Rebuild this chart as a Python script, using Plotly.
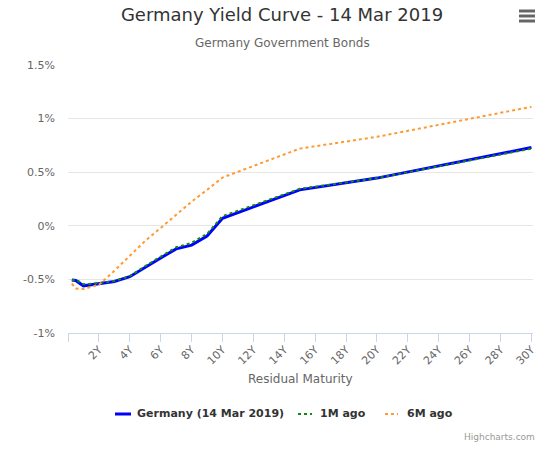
import plotly.graph_objects as go

# residual maturity in years
maturity = [0.25, 0.5, 1, 2, 3, 4, 5, 6, 7, 8, 9, 10, 15, 20, 30]

germany = [-0.505, -0.51, -0.56, -0.54, -0.52, -0.475, -0.385, -0.30, -0.215,
           -0.18, -0.095, 0.07, 0.335, 0.445, 0.73]
month_ago = [-0.51, -0.50, -0.545, -0.535, -0.515, -0.47, -0.375, -0.285, -0.20,
             -0.16, -0.075, 0.09, 0.345, 0.445, 0.72]
six_months_ago = [-0.54, -0.585, -0.59, -0.55, -0.42, -0.28, -0.14, -0.02, 0.105,
                  0.225, 0.335, 0.45, 0.72, 0.83, 1.11]

series_names = ['Germany (14 Mar 2019)', '1M ago', '6M ago']

x_ticks = list(range(0, 31, 2))
x_labels = [''] + ['%dY' % v for v in x_ticks[1:]]
y_ticks = [-1, -0.5, 0, 0.5, 1, 1.5]
y_labels = ['-1%', '-0.5%', '0%', '0.5%', '1%', '1.5%']

font = 'DejaVu Sans, Verdana, sans-serif'
colors = ['#0000ff', '#138a13', '#ff9933']
widths = [3, 2, 2]
dashes = ['solid', 'dot', 'dot']

fig = go.Figure()
for name, vals, c, w, d in zip(series_names, [germany, month_ago, six_months_ago],
                               colors, widths, dashes):
    fig.add_trace(go.Scatter(
        x=maturity, y=vals, name=name, mode='lines',
        line=dict(color=c, width=w, dash=d), showlegend=False
    ))

# plot area in pixels: x 68..533, y 65..333
def px(x):
    return (x - 68) / 465

def py(y):
    return (333 - y) / 268

annotations = [
    dict(text='Germany Government Bonds', xref='paper', yref='paper',
         x=px(282), y=py(43), xanchor='center', yanchor='middle',
         showarrow=False, font=dict(size=12, color='#666666')),
    dict(text='Residual Maturity', xref='paper', yref='paper',
         x=0.5, y=py(379), xanchor='center', yanchor='middle',
         showarrow=False, font=dict(size=12, color='#666666')),
    dict(text='Highcharts.com', xref='paper', yref='paper',
         x=px(537), y=py(437), xanchor='right', yanchor='middle',
         showarrow=False, font=dict(size=9, color='#999999')),
]

# legend drawn by hand (Highcharts style short symbols)
legend_sym = [(115, 131), (298, 312), (385, 398)]
legend_text = [135, 318, 405]
for name, (x0, x1), tx, c, w, d in zip(series_names, legend_sym, legend_text,
                                       colors, widths, dashes):
    fig.add_shape(type='line', xref='paper', yref='paper',
                  x0=px(x0), x1=px(x1), y0=py(414), y1=py(414),
                  line=dict(color=c, width=w, dash=d))
    annotations.append(dict(
        text='<b>%s</b>' % name, xref='paper', yref='paper',
        x=px(tx), y=py(413), xanchor='left', yanchor='middle', showarrow=False,
        font=dict(size=11, color='#333333')
    ))

fig.update_layout(
    width=549, height=455,
    margin=dict(l=68, r=16, t=65, b=122),
    paper_bgcolor='white', plot_bgcolor='white',
    font=dict(family=font, color='#666666', size=11),
    title=dict(
        text='Germany Yield Curve - 14 Mar 2019',
        x=282 / 549, xref='container', xanchor='center',
        y=1 - 15 / 455, yref='container', yanchor='middle',
        font=dict(size=18, color='#333333', family=font)
    ),
    showlegend=False,
    xaxis=dict(
        range=[0, 30.1], tickvals=x_ticks, ticktext=x_labels,
        tickangle=-45, showgrid=False, zeroline=False,
        showline=True, linecolor='#ccd6eb', linewidth=1,
        ticks='outside', ticklen=8, tickcolor='#ccd6eb',
        ticklabelstandoff=-3,
        tickfont=dict(size=11, color='#666666')
    ),
    yaxis=dict(
        range=[-1, 1.5], tickvals=y_ticks, ticktext=y_labels,
        showgrid=True, gridcolor='#e6e6e6', gridwidth=1, zeroline=False,
        showline=False, ticks='', ticklabelstandoff=12,
        tickfont=dict(size=11, color='#666666')
    ),
    annotations=annotations,
)

# context menu icon, top right
for yy in [11, 16, 21]:
    fig.add_shape(type='line', xref='paper', yref='paper',
                  x0=px(519), x1=px(535), y0=py(yy), y1=py(yy),
                  line=dict(color='#666666', width=3))

fig.write_html('out.html', config={'displayModeBar': False},
               post_script="document.body.style.margin='0px';")
